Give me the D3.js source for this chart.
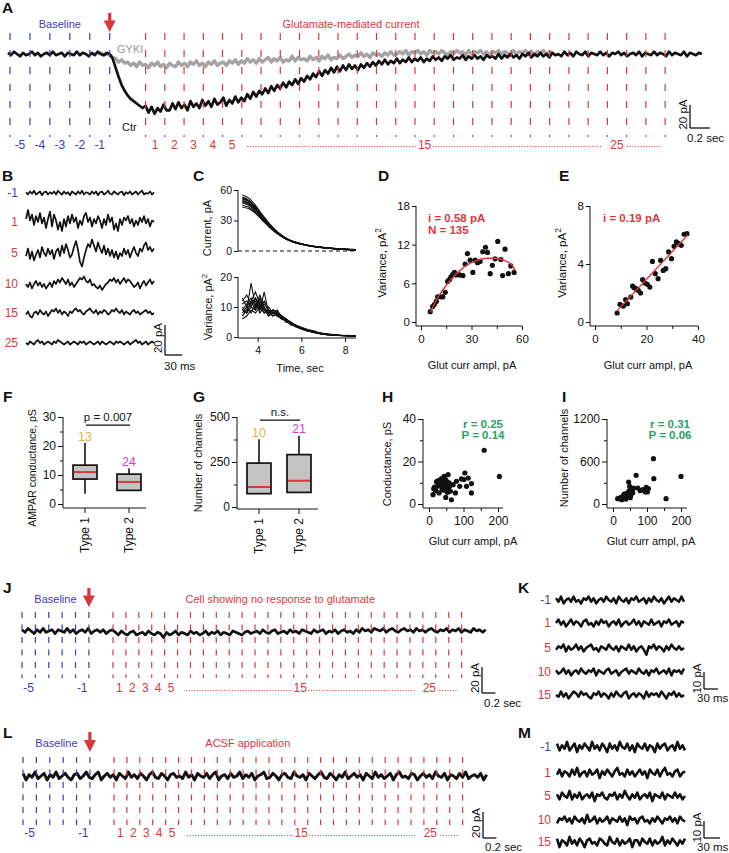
<!DOCTYPE html>
<html><head><meta charset="utf-8">
<script src="https://cdn.jsdelivr.net/npm/d3@7"></script>
<style>body{margin:0;background:#fff;}svg{display:block;}</style>
</head><body>
<svg id="fig" width="729" height="853"></svg>
<script>
// ================= DATA =================
// epoch markers (seconds) shared by panels A, J, L
const baselineMarks = [0.02,0.22,0.42,0.62,0.82,1.02];
const glutMarks = [1.38,1.573,1.766,1.959,2.152,2.345,2.538,2.731,2.924,3.117,3.31,3.503,3.696,3.889,4.082,4.275,4.468,4.661,4.854,5.047,5.24,5.433,5.626,5.819,6.012,6.205,6.398,6.591];
const baseLabelsA = ["-5","-4","-3","-2","-1"];
const baseLabelsJL = ["-5","","","","-1"];
const glutLabelIdx = [0,1,2,3,4,14,24];
const glutLabels = ["1","2","3","4","5","15","25"];

// Panel A: whole-cell current (pA), sampled every 0.03 s
const aDt = 0.03;
const aCtr = [1,-1,2,0,-2,1,-1,0,2,-1,1,-2,0,1,-1,2,-1,0,1,-2,1,0,-1,2,-1,1,0,-2,1,-1,2,0,-1,1,
 0,-4,-12,-20,-27,-32,-36,-39,-41,-43,-45,-47,
 -45,-51,-46,-52,-47,-50,-44,-49,
 -49,-43,-48,-42,-47,-44,-49,-41,-46,-43,-47,-40,-45,
 -41,-46,-39,-44,-42,-38,-45,-40,-43,-37,-42,
 -38,-41,-35,-39,-33,-37,-32,-35,-30,-34,
 -28,-32,-27,-30,-25,-29,-24,-27,-22,-26,-21,
 -24,-19,-22,-17,-20,-15,-19,-14,-17,-12,-16,
 -11,-15,-10,-14,-9,-13,-10,-14,-9,
 -12,-8,-11,-7,-10,-6,-9,-5,-9,-6,-8,
 -4,-8,-5,-7,-3,-7,-4,-6,-3,-7,-4,
 -6,-2,-5,-3,-6,-2,-4,-1,-5,-3,-4,
 -1,-5,-2,-4,-1,-4,-2,-5,-1,-3,-2,-4,
 0,-4,-1,-3,0,-3,-1,-4,0,-2,
 1,-3,0,-2,1,-2,0,-3,1,-1,0,-2,
 2,-1,1,-2,2,0,-1,2,-2,1,0,-1,2,-1,1,-2,1,0,2,-1,1,-2,0,1,-1,2,-2,1,0,-1,2,-1,1,0,-2,2,-1,1,0,-1,2,-2,1,0,-1,1,0];
const aGykiStart = 0.9;
const aGyki = [0,1,-1,0,-1,-3,-4,-7,-5,-8,
 -7,-10,-8,-11,-7,-10,-9,-12,-8,-10,-7,-11,-9,-12,-8,-10,
 -11,-7,-10,-8,-11,-7,-9,-6,-10,-8,-11,-7,-9,-6,-10,-8,-7,-10,-6,
 -8,-5,-9,-6,-8,-4,-7,-5,-8,-4,-7,-5,
 -3,-7,-4,-6,-3,-7,-5,-6,-2,-6,-3,-5,-4,-6,
 -2,-5,-3,-6,-2,-4,-1,-5,-3,-4,-1,-4,-2,
 0,-3,-1,-2,1,-2,0,-3,1,-1,0,-2,1,-1,2,-1,0,
 2,0,3,-1,2,1,3,0,2,-1,3,1,2,0,3,1,-1,2,0,3,1,2,-1,3,0,2,1,3,0,2,-1,2,1,3,0,2,1,-1,3,0,2,1,3,0,2,-1,2,1,3,0,2,1];

// Panel B: segments (pA), every 3.5 ms
const bDt = 3.5;
const bNames = ["-1","1","5","10","15","25"];
const bM1 = [0.5,-1,1,-0.5,1.5,-1,0,1,-1.5,0.5,1,-1,0.5,-0.5,1,-1,1.5,0,-1,1,-0.5,0.5,-1.5,1,0,-1,1,-0.5,1.5,-1,0.5,0,-1,1,-0.5,1,-1.5,0.5,1,-1,0,1.5,-0.5,-1,1,0,-1,0.5,1,-1.5,0.5,-0.5,1,-1,0,1,-1,0.5,1.5,-1,0,-0.5,1,-1,0.5];
const b1 = [2,8,1,5,-2,4,0,6,-1,3,-4,2,7,-3,5,1,-5,0,-6,2,-3,4,-1,5,0,3,-4,1,-2,4,6,0,3,-3,2,-1,4,1,-4,2,-2,5,0,3,-5,-1,-6,2,-2,3,1,4,-1,2,-3,1,-2,3,0,4,-1,2,-3,1,0];
const b5 = [-2,3,-4,1,-5,-1,2,-3,4,0,-2,3,-1,2,-4,1,3,-2,5,0,6,2,-3,-1,4,8,2,-6,-9,-3,2,6,4,9,5,1,7,3,0,5,-1,3,-2,2,-3,1,-4,0,-2,3,-1,2,-3,1,4,0,-2,3,1,5,7,2,4,1,3];
const b10 = [0,-2,1,-3,0,2,-1,1,-2,0,-3,-1,1,-2,2,0,3,1,4,2,0,3,-1,1,-2,0,2,4,3,5,2,1,3,-1,0,-2,-3,-1,-4,-2,0,1,3,2,4,1,3,0,2,4,1,3,2,0,-2,-1,1,-3,0,2,-1,1,3,0,2];
const b15 = [-1,1,-2,-3,0,1,-1,2,0,-1,1,-2,0,2,1,3,0,2,-1,1,0,-2,1,0,2,3,1,2,0,-1,1,2,3,1,0,2,-1,1,0,2,1,-1,0,2,1,3,1,0,2,-1,1,0,-1,1,2,0,1,-1,0,1,2,0,1,-1,0];
const b25 = [0,-1,1,0,-1,1,2,0,1,-1,0,1,0,-1,1,0,2,1,0,-1,0,1,-1,0,1,0,-1,1,0,1,-1,0,1,0,-1,0,1,-1,1,0,-1,0,1,0,-1,1,0,1,0,-1,0,1,-1,0,1,2,0,1,-1,0,1,-1,0,1,0];

// Panel C: mean current and variance vs time
const cCurTimes = [3.3,3.6,3.9,4.2,4.5,4.8,5.1,5.4,5.7,6.0,6.4,6.8,7.2,7.6,8.0,8.5];
const cCurrent = [
 [55,52,45,36,28,21,15.5,11.5,9,7,5.2,4,3,2.2,1.7,1.2],
 [53,50,44,35,27,20.5,15,11,8.7,6.9,5.1,3.9,2.9,2.1,1.6,1.3],
 [52,49,43,34.5,27,20,15,11,8.5,6.8,5,3.8,2.8,2.1,1.6,1.2],
 [51,48.5,42,34,26.5,20,15,11.2,8.6,6.9,5,3.9,2.8,2.2,1.7,1.4],
 [50,47,41,33,26,19.5,14.5,10.8,8.4,6.7,4.9,3.7,2.7,2,1.5,1.1],
 [49,46.5,41,33.5,26.5,20,15.2,11.3,8.8,7,5.2,4,3,2.3,1.8,1.4],
 [48,45.5,40,32.5,25.5,19.5,14.8,11,8.5,6.8,5,3.8,2.9,2.2,1.6,1.2],
 [47,45,39.5,32,25,19,14.5,10.8,8.3,6.6,4.8,3.6,2.7,2,1.5,1.1],
 [45,43,38,31,24.5,19,14.5,11,8.6,7,5.3,4.1,3.1,2.4,1.9,1.5],
 [43,41.5,37,30.5,24,18.5,14,10.5,8.2,6.6,4.9,3.8,2.8,2.1,1.6,1.2]];
const cVarTimes = [3.3,3.5,3.7,3.9,4.1,4.3,4.5,4.7,4.9,5.1,5.3,5.5,5.7,5.9,6.1,6.3,6.6,6.9,7.2,7.5,7.8,8.1,8.5];
const cVariance = [
 [7,9,18,10,12,9,8,9,8,7,6,5,4,3.5,3,2.5,2,1.2,1,0.8,0.6,0.5,0.4],
 [12,14,11,13,9,15,8,9,8.5,7,6,4.5,4,3,2.6,2,1.5,1.2,0.9,0.7,0.6,0.4,0.5],
 [10,8,12,15,11,9,7,8,7.5,6,5.5,5,3.5,3,2.5,2.2,1.7,1,0.8,0.7,0.5,0.6,0.3],
 [6,7,9,8,10,8,9,8,7,6.5,5,4.5,4,3,2.4,2,1.5,1.3,1,0.7,0.5,0.4,0.3],
 [9,11,13,10,14,10,8,9,7,6,6,5,3.8,3.2,2.7,2.3,1.8,1.1,0.9,0.6,0.5,0.4,0.4],
 [8,10,8,11,9,12,9,7,8,7,5.5,4.8,4.2,3.4,2.8,2.1,1.4,1,0.7,0.6,0.5,0.3,0.3],
 [11,12,10,9,11,8,10,8,9,6,6,4,3.8,3,2.4,2,1.6,1.2,0.9,0.8,0.6,0.5,0.4],
 [7,9,11,12,8,10,7,9,7,6.5,5,5,4,3.3,2.6,2.2,1.5,1.1,0.8,0.6,0.5,0.4,0.3],
 [13,10,12,9,13,9,8,7,8,6,5.8,4.6,3.6,3,2.5,1.9,1.6,1,0.8,0.6,0.4,0.5,0.3],
 [9,8,10,13,10,11,9,8,7,7,5,4.5,4,3.2,2.7,2.1,1.7,1.2,0.9,0.7,0.5,0.4,0.3]];

// Panel D / E: variance vs glutamate current amplitude
const dAmp = [5.5,6.9,7.9,9.1,9.9,11.8,13.0,14.4,15.8,17.0,17.8,18.9,19.9,20.9,22.9,24.9,26.2,27.6,29.2,30.8,32.2,33.6,35.1,36.7,38.3,39.5,41.1,42.4,44.0,45.6,47.4,48.5,49.9,51.9,53.3,55.3];
const dVar = [1.6,2.4,2.7,3.2,3.9,3.9,3.9,4.6,6.3,6.6,7.0,7.4,7.7,7.3,7.3,7.2,9.0,10.6,9.6,7.7,9.6,9.2,9.4,10.9,11.6,10.8,7.5,8.8,9.8,12.5,9.7,7.2,11.3,7.5,8.7,7.7];
const dFitAmp = [5.5,10,15,20,25,30,35,40,45,50,54,56];
const dFitVar = [1.5,3.8,5.7,7.2,8.4,9.2,9.7,9.9,9.9,9.5,8.8,8.0];
const eAmp = [8.6,9.7,11.0,11.9,12.6,13.9,14.6,15.2,15.9,16.8,17.7,18.5,19.4,20.3,21.3,22.3,23.4,24.5,25.5,26.5,27.5,28.6,29.7,30.7,31.6,32.6,33.5,34.6,35.7];
const eVar = [0.62,1.22,1.1,1.54,1.26,1.72,2.48,2.37,2.3,2.18,2.0,2.92,2.69,2.6,2.41,4.18,3.33,2.99,4.25,3.56,3.68,4.83,4.37,5.22,5.52,5.4,5.29,6.05,6.09];
const eFitAmp = [8.5,36];
const eFitVar = [0.75,6.0];

// Panel F / G: box plots
const boxCats = ["Type 1","Type 2"];
const fMin = [3.5,4.7], fQ1 = [8.6,4.7], fMed = [11.0,7.6], fQ3 = [13.4,10.3], fMax = [21,12.2], fN = ["13","24"];
const gMin = [74,81], gQ1 = [74,81], gMed = [111,146], gQ3 = [244,291], gMax = [376,396], gN = ["10","21"];

// Panel H / I: scatter
const hAmp = [11.6,13.6,19.4,24.3,29,34,37.9,40.8,43.7,47.6,50.5,48.5,53.4,55.3,58.3,62,65,70,76.7,79.6,89,94,101,104,108.7,113.6,123,123,160,204,16,22,27,31,36,42,45,52,57,60];
const hCond = [4.4,7.2,6.3,8.3,5.2,10.7,7.2,9.9,13,11.5,7.8,3.1,5.5,13.8,9.9,6,2,9.1,5.2,10.7,8.3,11.8,11.5,14.6,8.3,12.2,5.2,9.6,25.3,13,8,10.5,11,9,12,6.5,9,10.5,7,8.5];
const iAmp = [13.7,19.5,26,31,36,41,44,46,49,53,56,60.5,68,73,80,88,95,97.6,101,104,119,120,156,200,22,28,33,38,42,48,51,58];
const iChan = [75,75,61,122,85,155,108,310,250,132,188,226,405,226,188,202,170,235,170,216,640,358,75,390,90,100,140,70,110,190,90,160];

// Panel J / L: full recordings (pA), every 0.045 s from t=0.02
const jlDt = 0.045;
const jTrace = [1,-1,2,0,-2,1,-1,2,-1,0,1,-2,1,0,-1,2,-1,1,-2,0,1,-1,2,-2,0,1,-1,1,-2,0,1,
 -1,-3,0,-2,-3,-1,0,-3,-2,-1,-3,0,-2,-3,-1,-2,-5,-1,-3,-2,0,-3,-1,-2,-3,0,-2,-1,-3,-2,0,-3,-1,-2,0,-3,-1,-2,-3,0,-1,-2,-3,-1,0,-2,-1,
 0,-2,1,-1,-2,0,1,-2,-1,0,-2,1,-1,0,-2,1,0,-1,-2,1,-1,0,1,-2,0,-1,1,-2,0,1,-1,0,-2,
 1,-1,2,0,1,-1,2,1,0,2,-1,1,2,0,-1,1,2,0,1,-1,2,0,1,-1,1,2,0,-1,1,0,2,-1,1,0,2,-1,1,0,-1,2,0,1,-1,1];
const lTrace = [2,-3,1,-1,3,-2,0,2,-3,1,-1,3,-2,0,2,-1,-3,1,2,-2,0,3,-1,-2,1,3,-3,0,2,-1,1,-3,2,0,-2,3,-1,1,-2,2,0,-3,1,3,-1,-2,2,0,-3,1,2,-1,0,-2,3,-1,1,-3,2,0,-1,2,-2,1,3,-3,0,1,-2,2,-1,0,3,-2,1,-1,2,-3,0,1,3,-2,-1,2,0,-3,1,2,-1,-2,3,0,-1,1,-3,2,0,-2,1,3,-1,-2,2,0,-3,1,-1,3,-2,0,2,-1,1,-3,2,0,-2,3,-1,1,-2,0,2,-3,1,3,-1,0,-2,2,1,-3,0,2,-1,1,-2,3,0,-1,2,-3,1,0,-2,2,-1,3,-2,0,1,-1,2,-3,1];

// Panel K / M: segments (pA)
const kmNames = ["-1","1","5","10","15"];
const kDt = 5.4, mDt = 4.7;
const kM1 = [1,-1,2,-2,0,1,-1,2,-1,0,-2,1,0,2,-1,1,-2,0,1,-1,2,0,-1,1,-2,2,0,-1,1,-2,1,0,2,-1,0,1,-2,1,-1,2,0,-1,1,-2,0,2,-1,1,0,-1,2,-1];
const k1 = [0,2,-1,1,-2,0,2,-1,1,0,-2,1,2,-1,0,-2,1,-1,2,0,1,-2,0,1,-1,2,-2,0,1,-1,0,2,-1,1,-2,1,0,-1,2,-1,0,1,-2,1,0,2,-1,0,1,-2,1,0];
const k5 = [-1,1,0,2,-2,1,-1,0,2,-1,1,-2,0,1,2,-1,0,-2,1,0,-1,2,0,-1,1,-2,1,0,-1,2,-1,1,-2,0,1,-1,-4,1,0,2,-1,1,0,-2,1,-1,2,0,-1,1,-1,0];
const k10 = [1,-1,0,2,-1,1,-2,0,1,-1,2,0,-1,1,0,2,-2,1,0,-1,1,2,-1,0,1,-2,0,1,2,-1,1,0,-1,2,0,-1,1,-2,1,0,2,-1,0,1,-1,2,-2,1,0,1,-1,2];
const k15 = [0,-1,2,-1,1,-2,0,2,1,-1,2,0,1,-1,-2,1,0,2,-1,1,0,-2,1,-1,2,0,-1,1,2,-2,0,1,-1,1,0,-2,2,-1,1,0,1,-1,2,0,-2,1,0,2,-1,1,-1,0];
const mM1 = [2,-2,1,-1,3,-2,0,2,-3,1,-1,2,0,-2,3,-1,1,-2,2,0,-3,2,-1,1,-2,3,0,-1,2,-2,1,-3,2,0,-1,2,-2,1,0,-3,2,-1,1,2,-2,0,1,-2,3,-1,1,-2];
const m1 = [-1,2,-2,1,0,-2,2,-1,3,-2,0,1,-2,2,-1,0,2,-3,1,-1,2,0,-2,1,3,-1,0,-2,2,-1,1,-2,0,2,-1,1,-3,2,0,-1,2,-2,1,3,-1,0,-2,1,2,-2,0,1];
const m5 = [1,-2,2,0,-1,3,-2,1,-1,2,-2,0,1,-1,2,-3,1,0,2,-1,-2,1,0,2,-2,1,-1,3,0,-2,1,-1,2,-2,0,1,-1,2,-3,1,0,-1,2,-2,1,0,-1,2,-1,1,-2,0];
const m10 = [-2,1,0,2,-1,1,-2,2,0,-1,1,-2,3,-1,0,2,-2,1,-1,0,2,-2,1,0,-1,2,-1,1,-3,2,0,1,-2,1,2,-1,0,-2,1,-1,2,0,-2,1,0,2,-1,1,-2,2,0,-1];
const m15 = [2,-3,1,0,-2,3,-1,1,-2,2,0,-3,1,2,-1,0,-2,2,1,-1,-2,3,0,-1,2,-2,1,-1,0,2,-3,1,1,-2,2,0,-1,2,-2,1,-1,0,3,-2,1,-1,2,0,-2,1,-1,2];

// ================= DRAWING =================
const svg = d3.select("#fig");
const FONT = '"Liberation Sans", Arial, Helvetica, sans-serif';
svg.attr("font-family", FONT);
const BLUE = "#3b3bbd", RED = "#d7383d", GRAYTR = "#a4a4a4", GOLD = "#e3b43c", MAG = "#d43ad4", GREEN = "#27a35b", INK = "#111";
const intFmt = d3.format("d");

function txt(g, x, y, s, o = {}) {
  const t = g.append("text").attr("x", x).attr("y", y)
    .attr("font-size", o.size || 11).attr("fill", o.color || INK)
    .attr("text-anchor", o.anchor || "start");
  if (o.weight) t.attr("font-weight", o.weight);
  if (o.rot) t.attr("transform", `rotate(${o.rot},${x},${y})`);
  if (o.sup) {
    t.append("tspan").text(s);
    t.append("tspan").attr("dy", -5).attr("font-size", (o.size || 11) * 0.72).text(o.sup);
  } else t.text(s);
  return t;
}
function seg(g, x1, y1, x2, y2, o = {}) {
  return g.append("line").attr("x1", x1).attr("y1", y1).attr("x2", x2).attr("y2", y2)
    .attr("stroke", o.color || INK).attr("stroke-width", o.w || 1)
    .attr("stroke-dasharray", o.dash || null);
}
function trace(g, vals, xf, yf, color, w) {
  const ln = d3.line().x((d, i) => xf(i)).y(d => yf(d));
  g.append("path").attr("d", ln(vals)).attr("fill", "none").attr("stroke", color)
    .attr("stroke-width", w).attr("stroke-linejoin", "round");
}
function scaleBar(g, cx, cy, hLen, vLen, vLabel, hLabel, hx, hy) {
  hLen = Math.abs(hLen); vLen = Math.abs(vLen);
  seg(g, cx, cy, cx, cy - vLen, { w: 1.3 });
  seg(g, cx, cy, cx + hLen, cy, { w: 1.3 });
  txt(g, cx - 3, cy - vLen / 2 - 2, vLabel, { size: 11.5, anchor: "middle", rot: -90 });
  txt(g, cx + hx, cy + hy, hLabel, { size: 11.5 });
}
function panelLetter(s, x, y) { txt(svg, x, y, s, { size: 15.5, weight: "bold" }); }

function axisY(g, scale, x, ticks, o = {}) {
  const a = g.append("g").attr("transform", `translate(${x},0)`)
    .call(d3.axisLeft(scale).tickValues(ticks).tickSize(o.ts || 5).tickPadding(o.tp || 2).tickSizeOuter(0).tickFormat(intFmt));
  a.select(".domain").remove();
  a.attr("font-family", FONT).attr("font-size", o.fs || 11.5);
  a.selectAll("line").attr("stroke", INK);
  a.selectAll("text").attr("fill", INK);
  if (o.minor) {
    const m = g.append("g").attr("transform", `translate(${x},0)`)
      .call(d3.axisLeft(scale).tickValues(o.minor).tickSize(3).tickFormat(""));
    m.select(".domain").remove(); m.selectAll("line").attr("stroke", INK);
  }
  seg(g, x, o.from, x, o.to);
}
function axisX(g, scale, y, ticks, o = {}) {
  const a = g.append("g").attr("transform", `translate(0,${y})`)
    .call(d3.axisBottom(scale).tickValues(ticks).tickSize(o.ts || 5).tickPadding(o.tp || 3).tickSizeOuter(0).tickFormat(intFmt));
  a.select(".domain").remove();
  a.attr("font-family", FONT).attr("font-size", o.fs || 11.5);
  a.selectAll("line").attr("stroke", INK);
  a.selectAll("text").attr("fill", INK);
  if (o.minor) {
    const m = g.append("g").attr("transform", `translate(0,${y})`)
      .call(d3.axisBottom(scale).tickValues(o.minor).tickSize(3).tickFormat(""));
    m.select(".domain").remove(); m.selectAll("line").attr("stroke", INK);
  }
  seg(g, o.from, y, o.to, y);
}

// ---------- epoch recordings (A, J, L) ----------
function epochPanel(p) {
  const g = svg.append("g");
  const x = p.x;
  p.traces.forEach(tr => trace(g, tr.v, i => x(tr.t0 + i * tr.dt), p.y, tr.color, tr.w));
  const mk = (t, c) => seg(g, x(t), p.dashTop, x(t), p.dashBot, { color: c, w: 1.2, dash: p.dash });
  baselineMarks.forEach(t => mk(t, BLUE));
  glutMarks.forEach(t => mk(t, RED));
  const mid = (arr, i) => (x(arr[i]) + x(arr[i + 1])) / 2;
  p.baseLabels.forEach((s, i) => { if (s) txt(g, mid(baselineMarks, i), p.labelY, s, { color: BLUE, anchor: "middle", size: 12 }); });
  glutLabelIdx.forEach((k, j) => txt(g, mid(glutMarks, k), p.labelY, glutLabels[j], { color: RED, anchor: "middle", size: 12 }));
  const m5 = mid(glutMarks, 4), m15 = mid(glutMarks, 14), m25 = mid(glutMarks, 24);
  [[m5 + 15, m15 - 8], [m15 + 8, m25 - 15], [m25 + 10, x(glutMarks[27]) - 4]].forEach(s =>
    seg(g, s[0], p.dotY, s[1], p.dotY, { color: RED, w: 1.1, dash: "1,1.7" }));
  txt(g, (x(baselineMarks[0]) + x(baselineMarks[5])) / 2, p.titleY, "Baseline", { color: BLUE, anchor: "middle", size: 11 });
  txt(g, x(p.titleT), p.titleY, p.title, { color: RED, anchor: "middle", size: 11 });
  const ax = x(baselineMarks[5]), t0 = p.arrTop, h = p.arrH, hh = t0 + h * 0.4;
  g.append("path").attr("fill", RED)
    .attr("d", `M${ax - 1.6},${t0}L${ax + 1.6},${t0}L${ax + 1.6},${hh}L${ax + 6},${hh}L${ax},${t0 + h}L${ax - 6},${hh}L${ax - 1.6},${hh}Z`);
  return g;
}

// Panel A
panelLetter("A", 2, 13);
const xA = d3.scaleLinear().domain([0, 7]).range([8, 705.9]);
const yA = d3.scaleLinear().domain([-50, 0]).range([111.5, 54]);
const gA = epochPanel({
  x: xA, y: yA,
  traces: [
    { v: aGyki, t0: aGykiStart, dt: aDt, color: GRAYTR, w: 3.4 },
    { v: aCtr, t0: 0, dt: aDt, color: INK, w: 2.7 }],
  dashTop: 33, dashBot: 137, dash: "7,10",
  baseLabels: baseLabelsA, labelY: 149, dotY: 146.5,
  titleY: 28, titleT: 3.44, title: "Glutamate-mediated current",
  arrTop: 13, arrH: 19
});
txt(gA, 117, 53, "GYKI", { color: "#999", size: 11 });
txt(gA, 122, 131, "Ctr", { size: 11 });
scaleBar(gA, 690, 128, xA(0.2) - xA(0), yA(0) - yA(-20), "20 pA", "0.2 sec", -3, 14);

// Panel J
panelLetter("J", 3, 593);
const xJ = d3.scaleLinear().domain([0.02, 7.0]).range([22, 489]);
const yJ = d3.scaleLinear().domain([-20, 0]).range([657, 631]);
const gJ = epochPanel({
  x: xJ, y: yJ,
  traces: [{ v: jTrace, t0: 0.02, dt: jlDt, color: INK, w: 2.7 }],
  dashTop: 612, dashBot: 678, dash: "6,6.5",
  baseLabels: baseLabelsJL, labelY: 692, dotY: 690.5,
  titleY: 603, titleT: 3.88, title: "Cell showing no response to glutamate",
  arrTop: 588, arrH: 19
});
scaleBar(gJ, 482, 693, xJ(0.22) - xJ(0.02), yJ(0) - yJ(-20), "20 pA", "0.2 sec", 2, 14);

// Panel L
panelLetter("L", 3, 738);
const xL = d3.scaleLinear().domain([0.02, 7.0]).range([23, 490]);
const yL = d3.scaleLinear().domain([-20, 0]).range([802, 776]);
const gL = epochPanel({
  x: xL, y: yL,
  traces: [{ v: lTrace, t0: 0.02, dt: jlDt, color: INK, w: 2.9 }],
  dashTop: 757, dashBot: 825, dash: "6,6.5",
  baseLabels: baseLabelsJL, labelY: 837, dotY: 835.5,
  titleY: 747, titleT: 3.38, title: "ACSF application",
  arrTop: 732, arrH: 20
});
scaleBar(gL, 483, 838, xL(0.22) - xL(0.02), yL(0) - yL(-20), "20 pA", "0.2 sec", 2, 13);

// ---------- stacked segments (B, K, M) ----------
function stackPanel(p) {
  const g = svg.append("g");
  p.traces.forEach((v, r) => {
    const cy = p.rows[r];
    trace(g, v, i => p.x(i * p.dt), d => cy + p.y(d), INK, p.w);
    txt(g, p.labelX, cy + 4, p.names[r], { color: r === 0 ? BLUE : RED, anchor: "end", size: 12 });
  });
  return g;
}
panelLetter("B", 2, 181);
const xB = d3.scaleLinear().domain([0, 64 * bDt]).range([26, 154]);
const yB = d3.scaleLinear().domain([-20, 20]).range([30, -30]);
const gB = stackPanel({ x: xB, y: yB, dt: bDt, w: 1.7, labelX: 18,
  rows: [193, 222, 253, 284, 313, 343], names: bNames, traces: [bM1, b1, b5, b10, b15, b25] });
scaleBar(gB, 165, 355, xB(30) - xB(0), yB(0) - yB(20), "20 pA", "30 ms", -1, 15);

panelLetter("K", 518, 593);
const xK = d3.scaleLinear().domain([0, 51 * kDt]).range([556, 684]);
const yK = d3.scaleLinear().domain([-10, 10]).range([17, -17]);
const gK = stackPanel({ x: xK, y: yK, dt: kDt, w: 2.5, labelX: 551,
  rows: [600, 623, 648, 672, 695], names: kmNames, traces: [kM1, k1, k5, k10, k15] });
scaleBar(gK, 704, 689, xK(30) - xK(0), yK(0) - yK(10), "10 pA", "30 ms", -7, 13);

panelLetter("M", 518, 738);
const xM = d3.scaleLinear().domain([0, 51 * mDt]).range([557, 685]);
const yM = d3.scaleLinear().domain([-10, 10]).range([17, -17]);
const gM = stackPanel({ x: xM, y: yM, dt: mDt, w: 2.6, labelX: 551,
  rows: [747, 773, 796, 820, 842], names: kmNames, traces: [mM1, m1, m5, m10, m15] });
scaleBar(gM, 704, 838, xM(30) - xM(0), yM(0) - yM(10), "10 pA", "30 ms", -7, 13);

// ---------- Panel C ----------
panelLetter("C", 193, 181);
const gC = svg.append("g");
const xC = d3.scaleLinear().domain([3.1, 8.5]).range([238, 356]);
const yCt = d3.scaleLinear().domain([0, 60]).range([251, 190]);
const yCb = d3.scaleLinear().domain([0, 20]).range([337, 277]);
seg(gC, xC(3.1), yCt(0), xC(8.5), yCt(0), { dash: "4,3" });
cCurrent.forEach(c => {
  const ln = d3.line().x((d, i) => xC(cCurTimes[i])).y(d => yCt(d)).curve(d3.curveMonotoneX);
  gC.append("path").attr("d", ln(c)).attr("fill", "none").attr("stroke", INK).attr("stroke-width", 1.1);
});
cVariance.forEach(c => {
  const ln = d3.line().x((d, i) => xC(cVarTimes[i])).y(d => yCb(d));
  gC.append("path").attr("d", ln(c)).attr("fill", "none").attr("stroke", INK).attr("stroke-width", 1.1);
});
axisY(gC, yCt, 238, [0, 30, 60], { ts: 4, tp: 2, fs: 10.5, from: 251, to: 190 });
axisY(gC, yCb, 238, [0, 10, 20], { ts: 4, tp: 2, fs: 10.5, from: 338, to: 277 });
axisX(gC, xC, 338, [4, 6, 8], { ts: 4, tp: 5, fs: 10.5, from: 238, to: 356 });
txt(gC, 211, 228, "Current, pA", { anchor: "middle", rot: -90, size: 11 });
txt(gC, 212, 307, "Variance, pA", { anchor: "middle", rot: -90, size: 11, sup: "2" });
txt(gC, 300, 372, "Time, sec", { anchor: "middle", size: 11 });

// ---------- Panels D, E ----------
function scatter(g, xs, ys, xv, yv, r) {
  xv.forEach((d, i) => g.append("circle").attr("cx", xs(d)).attr("cy", ys(yv[i])).attr("r", r).attr("fill", INK));
}
function fitLine(g, xs, ys, xv, yv) {
  const ln = d3.line().x((d, i) => xs(d)).y((d, i) => ys(yv[i])).curve(d3.curveMonotoneX);
  g.append("path").attr("d", ln(xv)).attr("fill", "none").attr("stroke", RED).attr("stroke-width", 1.4);
}
panelLetter("D", 378, 181);
const gD = svg.append("g");
const xD = d3.scaleLinear().domain([0, 60]).range([421, 522]);
const yD = d3.scaleLinear().domain([0, 18]).range([322, 206]);
axisY(gD, yD, 416, [0, 6, 12, 18], { ts: 4, tp: 2, from: 326, to: 206 });
axisX(gD, xD, 326, [0, 30, 60], { ts: 4, tp: 5, minor: [15, 45], from: 416, to: 522 });
scatter(gD, xD, yD, dAmp, dVar, 2.6);
fitLine(gD, xD, yD, dFitAmp, dFitVar);
txt(gD, 428, 222, "i = 0.58 pA", { color: RED, weight: "bold", size: 11.5 });
txt(gD, 428, 234, "N = 135", { color: RED, weight: "bold", size: 11.5 });
txt(gD, 386, 263, "Variance, pA", { anchor: "middle", rot: -90, size: 11.5, sup: "2" });
txt(gD, 472, 369, "Glut curr ampl, pA", { anchor: "middle", size: 11 });

panelLetter("E", 559, 181);
const gE = svg.append("g");
const xE = d3.scaleLinear().domain([0, 40]).range([595, 698]);
const yE = d3.scaleLinear().domain([0, 8]).range([322, 206]);
axisY(gE, yE, 590, [0, 4, 8], { ts: 4, tp: 2, from: 326, to: 206 });
axisX(gE, xE, 326, [0, 20, 40], { ts: 4, tp: 5, minor: [10, 30], from: 590, to: 698 });
scatter(gE, xE, yE, eAmp, eVar, 2.6);
fitLine(gE, xE, yE, eFitAmp, eFitVar);
txt(gE, 603, 222, "i = 0.19 pA", { color: RED, weight: "bold", size: 11.5 });
txt(gE, 566, 263, "Variance, pA", { anchor: "middle", rot: -90, size: 11.5, sup: "2" });
txt(gE, 648, 369, "Glut curr ampl, pA", { anchor: "middle", size: 11 });

// ---------- Panels F, G (box plots) ----------
function boxPanel(p) {
  const g = svg.append("g");
  const xs = d3.scalePoint().domain(boxCats).range(p.xr);
  const ys = p.y;
  axisY(g, ys, p.ax, p.yt, { ts: 5, tp: 2, minor: p.ym, fs: 12, from: p.axY, to: ys(p.yt[p.yt.length - 1]) });
  seg(g, p.ax, p.axY, p.axEnd, p.axY);
  boxCats.forEach((c, i) => {
    const cx = xs(c), bw = 24;
    seg(g, cx, p.axY, cx, p.axY + 5);
    txt(g, cx + 4, p.axY + 9, c, { anchor: "end", rot: -90, size: 12 });
    seg(g, cx, ys(p.max[i]), cx, ys(p.q3[i]), { w: 1.6 });
    if (p.min[i] < p.q1[i]) seg(g, cx, ys(p.q1[i]), cx, ys(p.min[i]), { w: 1.6 });
    g.append("rect").attr("x", cx - bw / 2).attr("y", ys(p.q3[i])).attr("width", bw)
      .attr("height", ys(p.q1[i]) - ys(p.q3[i])).attr("fill", "#c3c3c3").attr("stroke", INK).attr("stroke-width", 1.7);
    seg(g, cx - bw / 2 + 1, ys(p.med[i]), cx + bw / 2 - 1, ys(p.med[i]), { color: RED, w: 2 });
    txt(g, cx, ys(p.max[i]) - 2.5, p.n[i], { color: i === 0 ? GOLD : MAG, anchor: "middle", size: 12.5 });
  });
  seg(g, xs(boxCats[0]) + 1, ys(p.sigY), xs(boxCats[1]) + 1, ys(p.sigY), { w: 1.2 });
  txt(g, (xs(boxCats[0]) + xs(boxCats[1])) / 2 + 1, ys(p.sigY) - 4, p.sig, { anchor: "middle", size: 11.5 });
  txt(g, p.titleX, p.titleY, p.title, { anchor: "middle", rot: -90, size: p.titleSize });
  return g;
}
panelLetter("F", 3, 402);
boxPanel({ xr: [85, 129], y: d3.scaleLinear().domain([0, 30]).range([504, 417]),
  ax: 63, axY: 508, axEnd: 146, yt: [0, 10, 20, 30], ym: [5, 15, 25],
  min: fMin, q1: fQ1, med: fMed, q3: fQ3, max: fMax, n: fN,
  sigY: 27.2, sig: "p = 0.007", title: "AMPAR conductance, pS", titleX: 36, titleY: 468, titleSize: 10.5 });
panelLetter("G", 193, 402);
boxPanel({ xr: [259, 299], y: d3.scaleLinear().domain([0, 500]).range([507, 417]),
  ax: 237, axY: 509, axEnd: 318, yt: [0, 250, 500], ym: [125, 375],
  min: gMin, q1: gQ1, med: gMed, q3: gQ3, max: gMax, n: gN,
  sigY: 483, sig: "n.s.", title: "Number of channels", titleX: 202, titleY: 463, titleSize: 11 });

// ---------- Panels H, I ----------
panelLetter("H", 382, 402);
const gH = svg.append("g");
const xH = d3.scaleLinear().domain([0, 200]).range([429, 498]);
const yH = d3.scaleLinear().domain([0, 40]).range([504, 419]);
axisY(gH, yH, 423, [0, 20, 40], { ts: 5, tp: 2, minor: [10, 30], fs: 12, from: 508, to: 419 });
axisX(gH, xH, 508, [0, 100, 200], { ts: 4, tp: 4, minor: [50, 150], fs: 12, from: 423, to: 503 });
scatter(gH, xH, yH, hAmp, hCond, 2.6);
txt(gH, 483, 428, "r = 0.25", { color: GREEN, weight: "bold", anchor: "middle", size: 11.5 });
txt(gH, 483, 439, "P = 0.14", { color: GREEN, weight: "bold", anchor: "middle", size: 11.5 });
txt(gH, 391, 464, "Conductance, pS", { anchor: "middle", rot: -90, size: 11 });
txt(gH, 473, 545, "Glut curr ampl, pA", { anchor: "middle", size: 11 });

panelLetter("I", 562, 402);
const gI = svg.append("g");
const xI = d3.scaleLinear().domain([0, 200]).range([613, 681]);
const yI = d3.scaleLinear().domain([0, 1200]).range([504, 419]);
axisY(gI, yI, 607, [0, 600, 1200], { ts: 5, tp: 2, minor: [300, 900], fs: 12, from: 508, to: 419 });
axisX(gI, xI, 508, [0, 100, 200], { ts: 4, tp: 4, minor: [50, 150], fs: 12, from: 607, to: 687 });
scatter(gI, xI, yI, iAmp, iChan, 2.6);
txt(gI, 670, 428, "r = 0.31", { color: GREEN, weight: "bold", anchor: "middle", size: 11.5 });
txt(gI, 670, 439, "P = 0.06", { color: GREEN, weight: "bold", anchor: "middle", size: 11.5 });
txt(gI, 568, 458, "Number of channels", { anchor: "middle", rot: -90, size: 11 });
txt(gI, 651, 545, "Glut curr ampl, pA", { anchor: "middle", size: 11 });
</script>
</body></html>
